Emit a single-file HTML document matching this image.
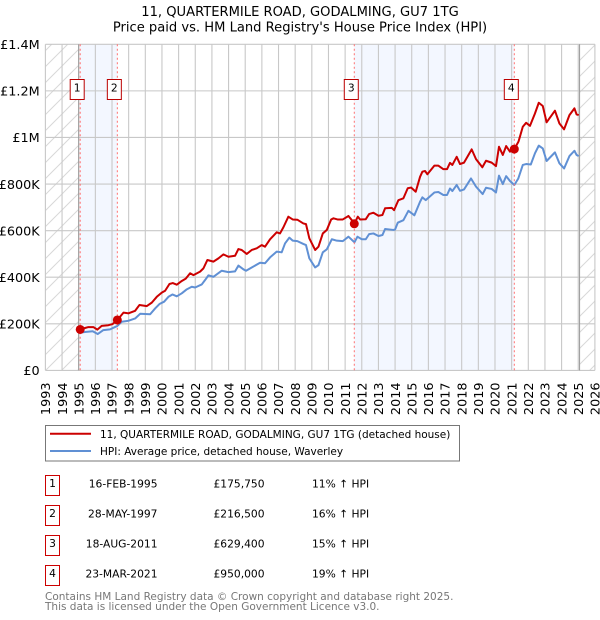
<!DOCTYPE html>
<html>
<head>
<meta charset="utf-8">
<title>11, Quartermile Road, Godalming price chart</title>
<style>
html,body{margin:0;padding:0;background:#fff;}
svg{display:block;font-family:"DejaVu Sans",sans-serif;}
</style>
</head>
<body>
<svg id="chart" width="600" height="620" viewBox="0 0 600 620" xmlns="http://www.w3.org/2000/svg">
  <defs>
    <pattern id="hatch" patternUnits="userSpaceOnUse" width="16" height="16">
      <path d="M-2 18 L18 -2" stroke="#d8d8d8" stroke-width="1" fill="none"/>
      <path d="M-2 2 L2 -2 M14 18 L18 14" stroke="#d8d8d8" stroke-width="1" fill="none"/>
    </pattern>
  </defs>
  <text x="300" y="16" text-anchor="middle" font-size="13.1" fill="#000">11, QUARTERMILE ROAD, GODALMING, GU7 1TG</text>
  <text x="300" y="31.5" text-anchor="middle" font-size="13.1" fill="#000">Price paid vs. HM Land Registry's House Price Index (HPI)</text>
  <g id="plot-back"></g>
  <g id="grid"></g>
  <g id="x-ticks"></g>
  <g id="y-ticks"></g>
  <g id="series"></g>
  <g id="sales"></g>

  <g>
    <rect x="45.5" y="425.5" width="414" height="35.5" fill="#fff" stroke="#777" stroke-width="1"/>
    <line x1="50" y1="433.8" x2="91" y2="433.8" stroke="#cc0000" stroke-width="2"/>
    <text x="100" y="438" font-size="10.5" fill="#000">11, QUARTERMILE ROAD, GODALMING, GU7 1TG (detached house)</text>
    <line x1="50" y1="451" x2="91" y2="451" stroke="#6090d4" stroke-width="2"/>
    <text x="100" y="455" font-size="10.5" fill="#000">HPI: Average price, detached house, Waverley</text>
  </g>

  <g id="sales-table"></g>

  <text x="45" y="600" font-size="10.5" fill="#777">Contains HM Land Registry data © Crown copyright and database right 2025.</text>
  <text x="45" y="610" font-size="10.5" fill="#777">This data is licensed under the Open Government Licence v3.0.</text>
</svg>
<script>
var yearTicks = [1993,1994,1995,1996,1997,1998,1999,2000,2001,2002,2003,2004,2005,2006,2007,2008,2009,2010,2011,2012,2013,2014,2015,2016,2017,2018,2019,2020,2021,2022,2023,2024,2025,2026];
var valueTicks = [0,200,400,600,800,1000,1200,1400];
var valueTickLabels = ['£0','£200K','£400K','£600K','£800K','£1M','£1.2M','£1.4M'];

var priceYears = [1995.09,1995.38,1995.58,1995.88,1996.12,1996.38,1996.78,1997.04,1997.32,1997.69,1997.99,1998.39,1998.65,1999.09,1999.39,1999.69,1999.99,2000.19,2000.45,2000.65,2000.89,2001.19,2001.43,2001.69,2001.89,2002.29,2002.49,2002.73,2003.09,2003.39,2003.69,2003.99,2004.39,2004.59,2004.79,2005.09,2005.39,2005.69,2005.99,2006.19,2006.49,2006.89,2007.09,2007.29,2007.59,2007.85,2008.13,2008.49,2008.65,2008.85,2009.2,2009.4,2009.66,2009.9,2010.16,2010.3,2010.54,2010.86,2011.2,2011.4,2011.55,2011.76,2011.9,2012.24,2012.44,2012.7,2013.0,2013.24,2013.4,2013.8,2013.94,2014.2,2014.5,2014.76,2014.96,2015.24,2015.5,2015.64,2015.8,2015.94,2016.36,2016.6,2016.9,2017.12,2017.3,2017.44,2017.7,2017.9,2018.14,2018.6,2018.86,2019.24,2019.46,2019.8,2020.06,2020.24,2020.47,2020.67,2020.9,2021.16,2021.41,2021.67,2021.87,2022.1,2022.4,2022.63,2022.87,2023.1,2023.6,2023.87,2024.15,2024.47,2024.77,2024.9,2025.03];
var priceValues = [175.75,182,186,186,175,191,194,199,216.5,248,245,256,281,276,291,316,334,342,371,375,368,384,394,417,409,424,438,474,467,481,498,488,492,521,517,500,517,524,538,531,563,593,588,614,660,648,647,631,628,567,517,531,588,603,648,653,648,648,663,645,629.4,660,648,649,671,677,664,667,696,698,688,731,739,782,785,767,831,853,856,842,879,879,864,864,891,882,917,886,892,949,907,872,900,892,877,960,925,963,939,950,982,1046,1063,1050,1103,1149,1135,1065,1115,1060,1035,1096,1125,1099,1096];

var hpiYears = [1995.09,1995.38,1995.84,1996.14,1996.48,1996.88,1997.32,1997.58,1997.98,1998.39,1998.69,1999.29,1999.59,1999.85,2000.13,2000.39,2000.63,2000.89,2001.19,2001.49,2001.79,2001.99,2002.39,2002.59,2002.79,2003.09,2003.59,2003.99,2004.39,2004.59,2004.89,2005.05,2005.39,2005.89,2006.19,2006.49,2006.89,2007.19,2007.39,2007.65,2007.85,2008.13,2008.49,2008.65,2008.85,2009.2,2009.4,2009.66,2009.9,2010.2,2010.5,2010.86,2011.2,2011.56,2011.74,2012.0,2012.24,2012.44,2012.7,2013.0,2013.24,2013.4,2013.9,2014.0,2014.16,2014.5,2014.8,2015.16,2015.5,2015.64,2015.84,2016.36,2016.6,2016.9,2017.12,2017.3,2017.44,2017.7,2017.9,2018.14,2018.56,2018.86,2019.26,2019.46,2019.8,2020.06,2020.24,2020.47,2020.67,2020.9,2021.16,2021.4,2021.67,2021.87,2022.15,2022.4,2022.63,2022.87,2023.1,2023.6,2023.87,2024.15,2024.47,2024.77,2024.9,2025.03];
var hpiValues = [162,165,168,156,173,176,191,209,213,223,243,241,266,285,295,316,326,318,331,348,359,356,369,388,408,402,428,422,425,450,434,428,442,462,460,485,510,507,545,570,557,555,543,538,481,442,452,507,520,563,557,555,574,550,574,563,563,585,588,577,581,607,603,605,634,645,685,666,724,743,731,764,766,753,753,781,770,796,771,777,824,789,757,784,779,764,836,800,834,813,796,824,882,886,884,932,965,953,899,936,889,867,920,943,925,920];

var saleYears = [1995.09,1997.32,2011.55,2021.16];
var saleValues = [175.75,216.5,629.4,950];
var saleNumbers = ['1','2','3','4'];
var saleDates = ['16-FEB-1995','28-MAY-1997','18-AUG-2011','23-MAR-2021'];
var salePrices = ['£175,750','£216,500','£629,400','£950,000'];
var saleHpi = ['11% ↑ HPI','16% ↑ HPI','15% ↑ HPI','19% ↑ HPI'];
var dataEndYear = 2025.08;

var NS = 'http://www.w3.org/2000/svg';
var plotLeft = 45.4, plotRight = 594.9, plotTop = 44.3, plotBottom = 370.4;
function xScale(year){ return plotLeft + (year - 1993) * (plotRight - plotLeft) / 33; }
function yScale(v){ return plotBottom - v * (plotBottom - plotTop) / 1400; }
function make(tag, parent, attrs){
  var el = document.createElementNS(NS, tag);
  for (var k in attrs) el.setAttribute(k, attrs[k]);
  parent.appendChild(el);
  return el;
}
var back = document.getElementById('plot-back');
var r1 = make('rect', back, {x:plotLeft, y:plotTop, width:xScale(1995)-plotLeft, height:plotBottom-plotTop, fill:'url(#hatch)'});


var r2 = make('rect', back, {x:xScale(dataEndYear), y:plotTop, width:plotRight-xScale(dataEndYear), height:plotBottom-plotTop, fill:'url(#hatch)'});


var b1 = make('rect', back, {x:xScale(saleYears[0]), y:plotTop, width:xScale(saleYears[1])-xScale(saleYears[0]), height:plotBottom-plotTop, fill:'#f3f7ff'});


var b2 = make('rect', back, {x:xScale(saleYears[2]), y:plotTop, width:xScale(saleYears[3])-xScale(saleYears[2]), height:plotBottom-plotTop, fill:'#f3f7ff'});



var grid = document.getElementById('grid');
var xt = document.getElementById('x-ticks');
var yt = document.getElementById('y-ticks');
yearTicks.forEach(function(yr){
  var px = xScale(yr);
  var gl = make('line', grid, {x1:px, x2:px, y1:plotTop, y2:plotBottom, stroke:'#c8c8c8', 'stroke-width':1.1});
  
  
  var t = make('text', xt, {transform:'translate('+(px+4.7)+',382.5) rotate(-90)', 'text-anchor':'end', 'font-size':12.8, fill:'#000'});
  
  
  t.textContent = yr;
});
valueTicks.forEach(function(v, i){
  var py = yScale(v);
  var gl = make('line', grid, {x1:plotLeft, x2:plotRight, y1:py, y2:py, stroke:'#c8c8c8', 'stroke-width':1.1});
  
  
  var t = make('text', yt, {x:39.7, y:py+4.7, 'text-anchor':'end', 'font-size':12.8, fill:'#000'});
  
  
  t.textContent = valueTickLabels[i];
});
var e1 = make('line', grid, {x1:xScale(1995), x2:xScale(1995), y1:plotTop, y2:plotBottom, stroke:'#999', 'stroke-width':1});


var e2 = make('line', grid, {x1:xScale(dataEndYear), x2:xScale(dataEndYear), y1:plotTop, y2:plotBottom, stroke:'#999', 'stroke-width':1});



var series = document.getElementById('series');
function linePath(xs, ys){
  return xs.map(function(x, i){ return (i ? 'L' : 'M') + xScale(x).toFixed(2) + ' ' + yScale(ys[i]).toFixed(2); }).join(' ');
}
var hpiLine = make('path', series, {d:linePath(hpiYears, hpiValues), fill:'none', stroke:'#6090d4', 'stroke-width':2, 'stroke-linejoin':'round'});


var priceLine = make('path', series, {d:linePath(priceYears, priceValues), fill:'none', stroke:'#cc0000', 'stroke-width':2, 'stroke-linejoin':'round'});



var sales = document.getElementById('sales');
saleYears.forEach(function(yr, i){
  var px = xScale(yr);
  var dl = make('line', sales, {x1:px, x2:px, y1:plotTop, y2:plotBottom, stroke:'#ff7070', 'stroke-width':1, 'stroke-dasharray':'2 2.5'});
  
  
  var c = make('circle', sales, {cx:px, cy:yScale(saleValues[i]), r:4.5, fill:'#cc0000'});
  
  
  var box = make('rect', sales, {x:px-10, y:79.5, width:14, height:20, fill:'#fff', stroke:'#bb0000', 'stroke-width':1});
  
  
  var t = make('text', sales, {x:px-3, y:91.5, 'text-anchor':'middle', 'font-size':10.7, fill:'#000'});
  
  
  t.textContent = saleNumbers[i];
});

var table = document.getElementById('sales-table');
saleNumbers.forEach(function(n, i){
  var top = 475.5 + i * 30;
  var box = make('rect', table, {x:45.5, y:top, width:14, height:20, fill:'#fff', stroke:'#cc0000', 'stroke-width':1});
  
  
  var tn = make('text', table, {x:52.5, y:top+11.5, 'text-anchor':'middle', 'font-size':10.7, fill:'#000'});
  
  
  tn.textContent = n;
  var td = make('text', table, {x:157.5, y:top+12, 'text-anchor':'end', 'font-size':10.7, fill:'#000'});
  
  
  td.textContent = saleDates[i];
  var tp = make('text', table, {x:264.5, y:top+12, 'text-anchor':'end', 'font-size':10.7, fill:'#000'});
  
  
  tp.textContent = salePrices[i];
  var th = make('text', table, {x:312, y:top+12, 'font-size':10.7, fill:'#000'});
  
  
  th.textContent = saleHpi[i];
});
</script>
</body>
</html>
